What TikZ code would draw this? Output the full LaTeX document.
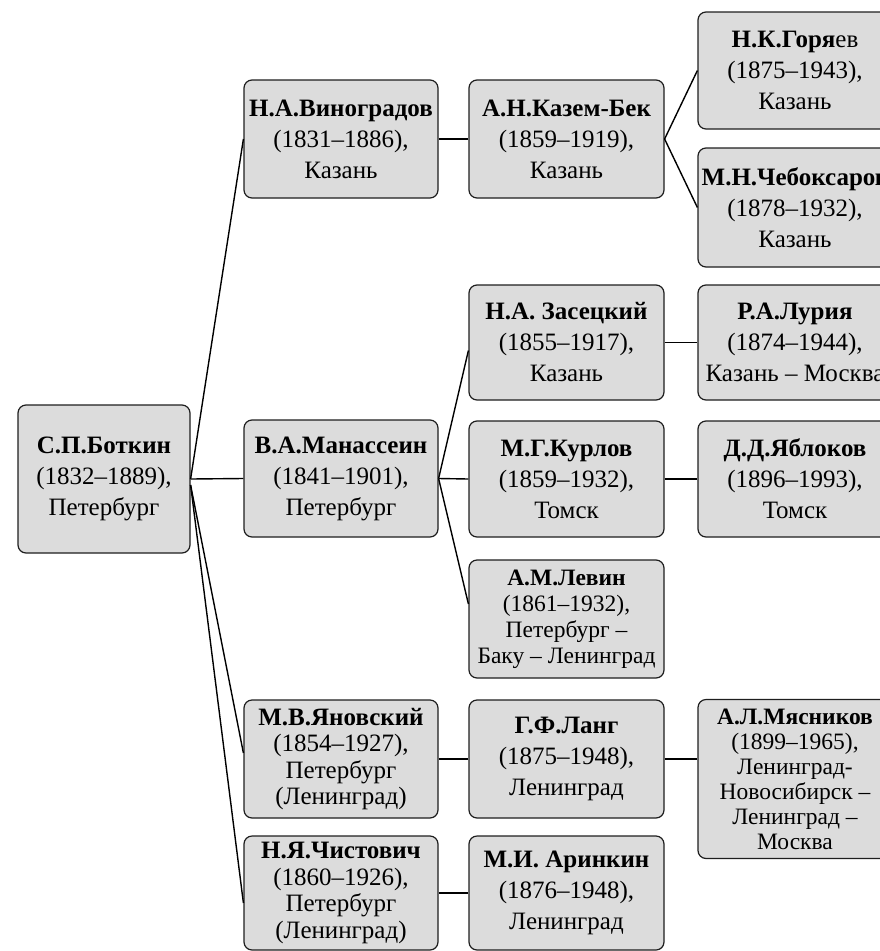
\documentclass[tikz,border=0pt]{standalone}
\usepackage{fontspec}
\setmainfont{Liberation Serif}
\definecolor{boxfill}{RGB}{220,220,220}
\definecolor{boxline}{RGB}{30,30,30}
\tikzset{
  person/.style={draw=boxline, line width=1.2pt, fill=boxfill, rounded corners=8pt,
    align=center, inner sep=0pt, font=\fontsize{25}{31}\selectfont},
  dense/.style={font=\fontsize{25}{26.5}\selectfont},
  small/.style={font=\fontsize{23.5}{26}\selectfont},
  tiny/.style={font=\fontsize{23.5}{25}\selectfont},
  link/.style={draw=black, line width=1.4pt}
}
\begin{document}
\begin{tikzpicture}[x=1pt,y=-1pt]
\useasboundingbox (0,0) rectangle (880,951);

% founder
\node[person, minimum width=172pt, minimum height=148pt] (bot) at (104,479)
  {\textbf{С.П.Боткин}\\(1832–1889),\\Петербург};

% second column
\node[person, minimum width=194pt, minimum height=118pt] (vin) at (341,139)
  {\textbf{Н.А.Виноградов}\\(1831–1886),\\Казань};
\node[person, minimum width=194pt, minimum height=117pt] (man) at (341,478.5)
  {\textbf{В.А.Манассеин}\\(1841–1901),\\Петербург};
\node[person, dense, minimum width=194pt, minimum height=118pt] (yan) at (341,759)
  {\textbf{М.В.Яновский}\\(1854–1927),\\Петербург\\(Ленинград)};
\node[person, dense, minimum width=194pt, minimum height=114pt] (chi) at (341,893)
  {\textbf{Н.Я.Чистович}\\(1860–1926),\\Петербург\\(Ленинград)};

% third column
\node[person, minimum width=195pt, minimum height=118pt] (kaz) at (566.5,139)
  {\textbf{А.Н.Казем-Бек}\\(1859–1919),\\Казань};
\node[person, minimum width=195pt, minimum height=115pt] (zas) at (566.5,342.5)
  {\textbf{Н.А. Засецкий}\\(1855–1917),\\Казань};
\node[person, minimum width=195pt, minimum height=116pt] (kur) at (566.5,479)
  {\textbf{М.Г.Курлов}\\(1859–1932),\\Томск};
\node[person, small, minimum width=195pt, minimum height=118pt] (lev) at (566.5,619)
  {\textbf{А.М.Левин}\\(1861–1932),\\Петербург –\\Баку – Ленинград};
\node[person, minimum width=195pt, minimum height=118pt] (lang) at (566.5,759)
  {\textbf{Г.Ф.Ланг}\\(1875–1948),\\Ленинград};
\node[person, minimum width=195pt, minimum height=114pt] (ari) at (566.5,893)
  {\textbf{М.И. Аринкин}\\(1876–1948),\\Ленинград};

% fourth column (runs past the right edge)
\node[person, minimum width=194pt, minimum height=117pt] (gor) at (795,70.5)
  {\textbf{Н.К.Горя}ев\\(1875–1943),\\Казань};
\node[person, minimum width=194pt, minimum height=119pt] (che) at (795,207.5)
  {\textbf{М.Н.Чебоксаров}\\(1878–1932),\\Казань};
\node[person, minimum width=194pt, minimum height=115pt] (lur) at (795,342.5)
  {\textbf{Р.А.Лурия}\\(1874–1944),\\Казань – Москва};
\node[person, minimum width=194pt, minimum height=116pt] (yab) at (795,479)
  {\textbf{Д.Д.Яблоков}\\(1896–1993),\\Томск};
\node[person, tiny, minimum width=194pt, minimum height=159pt] (mya) at (795,779)
  {\textbf{А.Л.Мясников}\\(1899–1965),\\Ленинград-\\Новосибирск –\\Ленинград –\\Москва};

% connectors
\draw[link] (bot.east) -- (vin.west);
\draw[link] (bot.east) -- (man.west);
\draw[link] ([yshift=-6pt]bot.east) -- ([yshift=6pt]yan.west);
\draw[link] ([yshift=-6pt]bot.east) -- ([yshift=-10pt]chi.west);
\draw[link] (vin.east) -- (kaz.west);
\draw[link] (kaz.east) -- (gor.west);
\draw[link] (kaz.east) -- (che.west);
\draw[link] (man.east) -- ([yshift=-8pt]zas.west);
\draw[link] (man.east) -- (kur.west);
\draw[link] (man.east) -- ([yshift=15pt]lev.west);
\draw[link] (zas.east) -- (lur.west);
\draw[link] (kur.east) -- (yab.west);
\draw[link] (yan.east) -- (lang.west);
\draw[link] (lang.east) -- (lang.east -| mya.west);
\draw[link] (chi.east) -- (ari.west);
\end{tikzpicture}
\end{document}
